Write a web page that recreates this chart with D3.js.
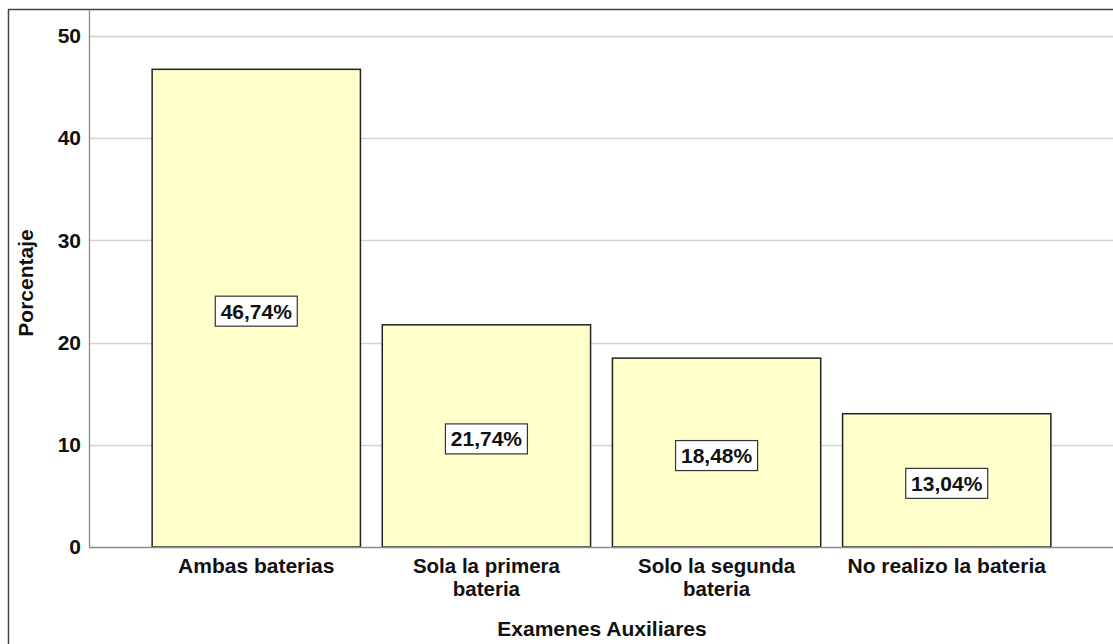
<!DOCTYPE html>
<html><head><meta charset="utf-8">
<script src="https://cdn.jsdelivr.net/npm/d3@7"></script>
<style>
body{margin:0;background:#fff;}
svg text{font-family:"Liberation Sans",Arial,sans-serif;fill:#111;}
</style></head>
<body><svg id="c" width="1113" height="644"></svg>
<script>
const categories = [["Ambas baterias"], ["Sola la primera", "bateria"], ["Solo la segunda", "bateria"], ["No realizo la bateria"]];
const values = [46.74, 21.74, 18.48, 13.04];
const valueLabels = ["46,74%", "21,74%", "18,48%", "13,04%"];
const yTicks = [0, 10, 20, 30, 40, 50];
const yTitle = "Porcentaje";
const xTitle = "Examenes Auxiliares";

const svg = d3.select("#c");
const W = 1113, H = 644;
const m = {left: 89, top: 10, right: 1113, bottom: 547};
const FS = 21;

// outer frame
svg.append("line").attr("x1", 8.5).attr("x2", 8.5).attr("y1", 9.5).attr("y2", H).attr("stroke", "#444").attr("stroke-width", 1.5);
svg.append("line").attr("x1", 8).attr("x2", W).attr("y1", 9.5).attr("y2", 9.5).attr("stroke", "#444").attr("stroke-width", 1.5);

const y = d3.scaleLinear().domain([0, 50]).range([547, 36]);
const x = d3.scaleBand().domain(d3.range(categories.length)).range([90, 1113]).paddingInner(0.095).paddingOuter(0.27);

// gridlines
svg.append("g").selectAll("line").data(yTicks.filter(d => d > 0)).join("line")
  .attr("x1", m.left).attr("x2", W).attr("y1", d => Math.round(y(d)) + 0.5).attr("y2", d => Math.round(y(d)) + 0.5)
  .attr("stroke", "#d4d4d4").attr("stroke-width", 1.3);

// y axis
const ya = svg.append("g").attr("transform", `translate(${m.left},0)`)
  .call(d3.axisLeft(y).tickValues(yTicks).tickSize(0).tickPadding(8));
ya.select(".domain").remove();
ya.selectAll("text").attr("font-size", FS).attr("font-weight", "bold").attr("font-family", "Liberation Sans, Arial, sans-serif").attr("fill", "#111");
svg.append("line").attr("x1", m.left + 0.5).attr("x2", m.left + 0.5).attr("y1", 10).attr("y2", 547).attr("stroke", "#8a8a8a").attr("stroke-width", 1.3);

// bars
svg.append("g").selectAll("rect").data(values).join("rect")
  .attr("x", (d, i) => x(i)).attr("width", x.bandwidth())
  .attr("y", d => y(d)).attr("height", d => y(0) - y(d))
  .attr("fill", "#ffffcc").attr("stroke", "#222").attr("stroke-width", 1.5);

// baseline
svg.append("line").attr("x1", m.left).attr("x2", W).attr("y1", 547.5).attr("y2", 547.5).attr("stroke", "#8a8a8a").attr("stroke-width", 1.3);

// value labels
const lg = svg.append("g").selectAll("g").data(values).join("g")
  .attr("transform", (d, i) => `translate(${x(i) + x.bandwidth() / 2},${(y(d) + y(0)) / 2 + 3})`);
lg.append("rect").attr("x", -41).attr("y", -15).attr("width", 82).attr("height", 30)
  .attr("fill", "#fff").attr("stroke", "#333").attr("stroke-width", 1.2);
lg.append("text").attr("text-anchor", "middle").attr("dy", "0.36em")
  .attr("font-size", FS).attr("font-weight", "bold").text((d, i) => valueLabels[i]);

// category labels (one text element per line)
const lines = [];
categories.forEach((c, i) => c.forEach((t, j) => lines.push({i, j, t, n: c.length})));
svg.append("g").selectAll("text").data(lines).join("text")
  .attr("text-anchor", "middle").attr("font-weight", "bold")
  .attr("font-size", d => d.n > 1 ? 20.5 : FS)
  .attr("x", d => x(d.i) + x.bandwidth() / 2)
  .attr("y", d => 573 + d.j * 23)
  .text(d => d.t);

// axis titles
svg.append("text").attr("text-anchor", "middle").attr("font-size", FS).attr("font-weight", "bold")
  .attr("x", 602).attr("y", 636).text(xTitle);
svg.append("text").attr("text-anchor", "middle").attr("font-size", FS).attr("font-weight", "bold")
  .attr("transform", "translate(33,283) rotate(-90)").text(yTitle);
</script></body></html>
